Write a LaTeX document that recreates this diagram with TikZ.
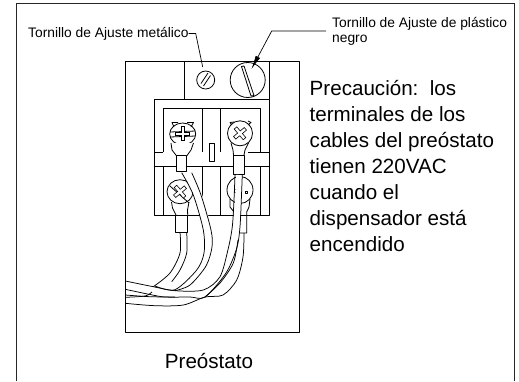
\documentclass[tikz,border=0pt]{standalone}
\usepackage{fontspec}
\setmainfont{Liberation Sans}
\usetikzlibrary{arrows.meta}

\tikzset{
    part/.style={line width=0.8pt, line join=round},
    wire/.style={line width=0.75pt},
    mask/.style={white, line width=8pt},
    smalltext/.style={font=\fontsize{13.8}{15}\selectfont, inner sep=0pt, align=left},
    bigtext/.style={font=\fontsize{20.6}{25.9}\selectfont, inner sep=0pt, align=left}
}
% Outlined cross in a screw head: centre x, centre y, angle
\newcommand{\crossmark}[3]{
    \draw[line width=0.6pt, fill=white, rotate around={#3:(#1,#2)}, shift={(#1,#2)}]
        (-1.7,-7) -- (1.7,-7) -- (1.7,-1.7) -- (7,-1.7) -- (7,1.7) -- (1.7,1.7) -- (1.7,7) -- (-1.7,7) -- (-1.7,1.7) -- (-7,1.7) -- (-7,-1.7) -- (-1.7,-1.7) -- cycle;
}

\begin{document}
\begin{tikzpicture}[x=1pt, y=-1pt]
    \useasboundingbox (0,0) rectangle (519,381);

    % Outer frame, open at the bottom
    \draw[line width=0.9pt, black!85] (16.5,381) -- (16.5,3.5) -- (514,3.5) -- (514,381);

    % Housing
    \draw[part] (125.5,61) rectangle (299.5,332);
    \draw[part] (184.7,99) -- (184.7,61);
    \draw[part] (269.3,61) -- (269.3,99);

    % Terminal block
    \draw[part] (154,99) rectangle (269.3,215);
    \draw[part] (154,152.3) -- (163,152.3);
    \draw[part] (248,152.3) -- (269.3,152.3);
    \draw[part] (154,166.7) -- (269.3,166.7);
    \draw[part] (163,152.3) -- (163,108.5) -- (260,108.5) -- (260,152.3);
    \draw[part] (202,108.5) -- (202,152.3);
    \draw[part] (220.7,108.5) -- (220.7,152.3);
    \draw[part] (163,166.7) -- (163,215);
    \draw[part] (202,166.7) -- (202,215);
    \draw[part] (220.7,166.7) -- (220.7,215);
    \draw[part] (260,166.7) -- (260,215);
    \draw[part] (209.3,143.3) rectangle (214,161.7);

    % Adjustment screws
    \draw[part] (205.7,80) circle (9);
    \draw[part] (201,83.5) -- (208,73);
    \draw[part] (203.5,86) -- (210.5,75.5);
    \draw[part] (247.7,80) circle (17.5);
    \draw[part] (241.5,66.5) -- (244,66) -- (254,95.5) -- (251,96) -- cycle;

    % Upper left terminal
    \draw[part] (174,127) -- (172,122.5) -- (178,122.5);
    \draw[part] (191,127) -- (193.5,122.5) -- (187,122.5);
    \draw[part] (182.7,134) ellipse (13 and 11);
    \draw[part] (170,132) -- (195.5,131);
    \draw[part] (170,137) -- (195.5,136);
    \crossmark{182.7}{133.5}{0}
    \draw[part, fill=white] (171,143) -- (172,150) -- (176.7,156) -- (186.7,156) -- (191,150) -- (193.5,143);
    \draw[part, fill=white] (176.7,155) rectangle (186.7,171.7);

    % Upper right terminal
    \draw[part] (232,125) -- (230,122.5) -- (234,122);
    \draw[part] (248,125) -- (251,122.5) -- (248,121);
    \draw[part] (240,133.3) circle (12.5);
    \crossmark{240}{133.3}{40}
    \draw[part] (231,143) -- (233,150) -- (233.5,155);
    \draw[part] (248.5,143) -- (245,150) -- (244,155);
    \draw[part, fill=white] (233.5,155) rectangle (244,174);

    % Lower left terminal
    \draw[part] (180,191.7) ellipse (13 and 12);
    \draw[part] (170,186) -- (189,203);
    \crossmark{180}{191.7}{40}
    \draw[part] (171.5,202) -- (172.5,208) -- (176,215);
    \draw[part] (189,202) -- (187.5,210) -- (187.7,215);
    \draw[part, fill=white] (175.7,215) rectangle (187.7,232.3);

    % Lower right terminal
    \draw[part] (240,190) ellipse (13 and 13.5);
    \draw[part, fill=white] (234,189) rectangle (236,192);
    \draw[part, fill=white] (245,191) rectangle (247.5,193.5);
    \draw[part] (230,199) -- (230,207) -- (234,212) -- (234,215);
    \draw[part] (250,199) -- (249,207) -- (246.7,212) -- (246.7,233) -- (240,233);

    % Upper left wire passes over the lower left screw
    \draw[mask] plot[smooth] coordinates {(187,172) (198,195) (208,230)};
    \draw[wire] plot[smooth] coordinates {(181.7,172.7) (193.3,195) (203.3,230) (204,253) (196.7,270) (175,289.7) (155,286)};
    \draw[wire] plot[smooth] coordinates {(191.7,172.7) (201,195) (211,230) (212,247) (206,266) (190,285) (175,290.7)};

    % Lower left wire
    \draw[wire] plot[smooth] coordinates {(180,232.3) (180,253) (170,273) (153.3,286.7)};
    \draw[wire] plot[smooth] coordinates {(186.7,232.3) (186.7,253) (180,270) (171.7,281.7)};

    % Upper right wire passes over the lower right screw
    \draw[mask, line width=6pt] plot[smooth] coordinates {(239,175) (238,200) (236,227)};
    \draw[wire] plot[smooth] coordinates {(235,174) (234,200) (232.3,226.7) (228.3,248.3) (220,276.7) (203.3,290) (175,290.7) (153.3,286.7) (125.3,281)};
    \draw[wire] plot[smooth] coordinates {(242.3,174) (241.7,190) (240,226.7) (236.7,248.3) (226,273) (205,297) (190,297) (165,297) (150,294.5) (125.3,289.3)};

    % Lower right wire
    \draw[wire] plot[smooth] coordinates {(244,233) (243,257) (236.7,280) (223,295) (205,297) (183.3,305) (155,305.7) (125.3,303.3)};
    \draw[wire] plot[smooth] coordinates {(238,240) (233.3,263) (220,283) (205,297)};

    % Strands to the left edge
    \draw[wire] plot[smooth] coordinates {(125.3,295) (150,296.7) (175,297)};
    \draw[wire] plot[smooth] coordinates {(125.3,297.3) (145,296) (152,292)};

    % Labels
    \node[smalltext, anchor=west] (metalico) at (28,33.5) {Tornillo de Ajuste metálico};
    \node[smalltext, anchor=north west] (plastico) at (332,17.5) {Tornillo de Ajuste de plástico\\negro};
    \node[bigtext, anchor=north west] (precaucion) at (309.5,80.5) {Precaución:\ \ los\\terminales de los\\cables del preóstato\\tienen 220VAC\\cuando el\\dispensador está\\encendido};
    \node[bigtext] (preostato) at (209,361) {Preóstato};

    % Leaders to the adjustment screws
    \coordinate (metalend) at (202.7,67);
    \coordinate (plasticoend) at (251.3,69.3);
    \coordinate (plasticostart) at (326,31);
    \draw[line width=0.7pt] (metalico.east) -- (195.7,33.5) -- (metalend);
    \draw[line width=0.7pt, -{Latex[length=14pt, width=5pt]}] (plasticostart) -- (271.7,31) -- (plasticoend);
\end{tikzpicture}
\end{document}
